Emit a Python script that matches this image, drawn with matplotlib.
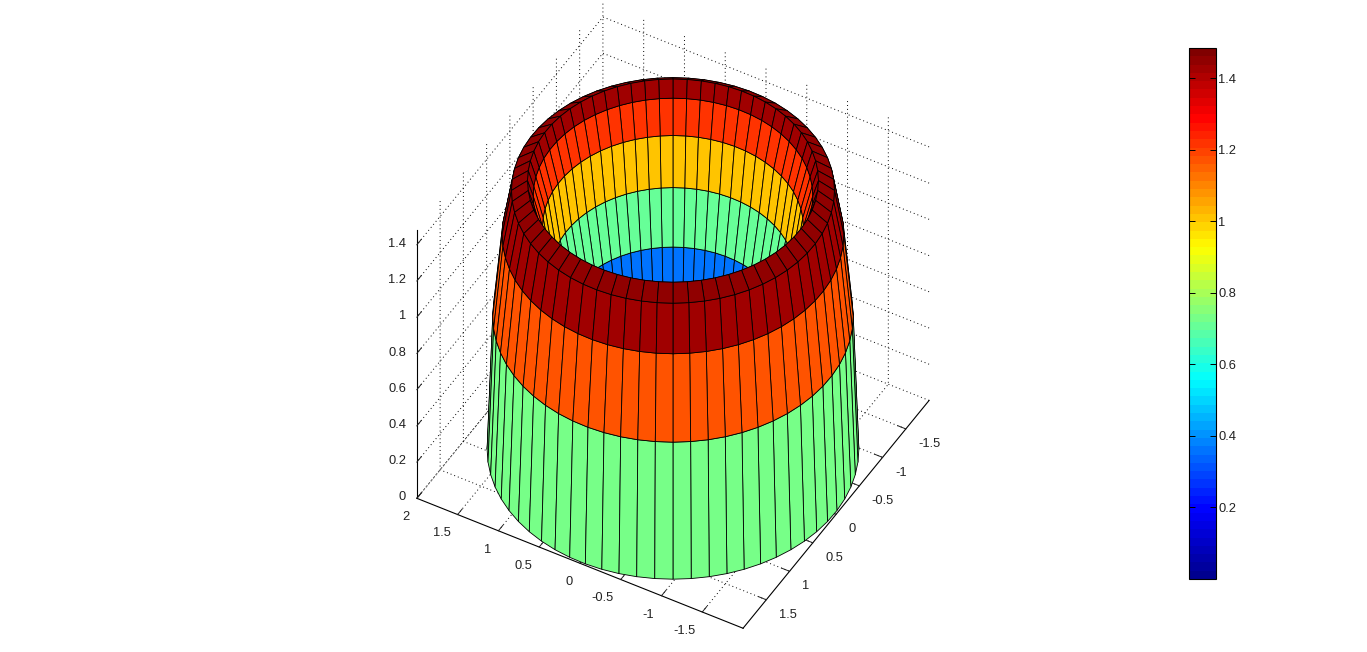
import numpy as np
import matplotlib
matplotlib.use("Agg")
import matplotlib.pyplot as plt
from matplotlib import cm, colors
from mpl_toolkits.mplot3d import proj3d

plt.rcParams['font.family'] = ['Liberation Sans', 'DejaVu Sans']
plt.rcParams['grid.color'] = 'black'
plt.rcParams['grid.linestyle'] = (0, (1, 3))
plt.rcParams['grid.linewidth'] = 0.7

# profile of the surface of revolution
ring_radius = [1.98, 1.92, 1.82, 1.72, 1.55, 1.49, 1.39, 1.30, 1.18, 1.05]
ring_height = [0.00, 0.735, 1.187, 1.43, 1.484, 1.40, 1.23, 0.975, 0.69, 0.345]
band_value = [0.74, 1.17, 1.42, 1.44, 1.42, 1.228, 1.00, 0.696, 0.349]
facet_count = 64

x_ticks = [-1.5, -1, -0.5, 0, 0.5, 1, 1.5, 2]
x_labels = ['-1.5', '-1', '-0.5', '0', '0.5', '1', '1.5', '2']
y_ticks = [-1.5, -1, -0.5, 0, 0.5, 1, 1.5]
y_labels = ['-1.5', '-1', '-0.5', '0', '0.5', '1', '1.5']
z_ticks = [0, 0.2, 0.4, 0.6, 0.8, 1, 1.2, 1.4]
z_labels = ['0', '0.2', '0.4', '0.6', '0.8', '1', '1.2', '1.4']
cbar_ticks = [0.2, 0.4, 0.6, 0.8, 1, 1.2, 1.4]
cbar_labels = ['0.2', '0.4', '0.6', '0.8', '1', '1.2', '1.4']
z_max = 1.484
ELEV, AZIM = 44.3, 119.7

W, H = 1367, 652
fig = plt.figure(figsize=(W / 100, H / 100), dpi=100, facecolor='white')
S0 = 620
ax = fig.add_axes([(673 - S0 / 2) / W, 1 - (315 + S0 / 2) / H, S0 / W, S0 / H],
                  projection='3d', proj_type='ortho')
ax.patch.set_alpha(0)
ax.view_init(elev=ELEV, azim=AZIM)

# MATLAB's 64-level jet
jet_segments = {
    'red': [(0, 0, 0), (0.375, 0, 0), (0.625, 1, 1), (0.875, 1, 1), (1, 0.5, 0.5)],
    'green': [(0, 0, 0), (0.125, 0, 0), (0.375, 1, 1), (0.625, 1, 1), (0.875, 0, 0), (1, 0, 0)],
    'blue': [(0, 0.5625, 0.5625), (0.125, 1, 1), (0.375, 1, 1), (0.625, 0, 0), (1, 0, 0)],
}
cmap = colors.LinearSegmentedColormap('matlab_jet', jet_segments, N=64)
norm = colors.Normalize(0, z_max)

theta = np.radians(AZIM) + np.linspace(0, 2 * np.pi, facet_count + 1)
R = np.array(ring_radius)[:, None]
Zr = np.array(ring_height)[:, None]
X = R * np.cos(theta)
Y = R * np.sin(theta)
Z = Zr * np.ones_like(theta)
face = cmap(norm(np.array(band_value)[:, None] * np.ones(facet_count)))
surf = ax.plot_surface(X, Y, Z, rstride=1, cstride=1, facecolors=face, shade=False,
                       linewidth=0.6, antialiased=True, zorder=3)
surf.set_edgecolor('black')
surf.set_linewidth(0.6)

ax.set_xlim(-2, 2)
ax.set_ylim(-2, 2)
ax.set_zlim(0, z_max)
ax.set_box_aspect((1, 1, 1))
ax.set_xticks(x_ticks, x_labels)
ax.set_yticks(y_ticks, y_labels)
ax.set_zticks(z_ticks, z_labels)
ax.zaxis.set_ticks_position('upper')
ax.zaxis.set_label_position('upper')

for axis in (ax.xaxis, ax.yaxis, ax.zaxis):
    axis.set_pane_color((1, 1, 1, 0))
    axis.pane.set_edgecolor((1, 1, 1, 0))
    axis.line.set_color('black')
    axis.line.set_linewidth(0.8)
    axis._axinfo['tick']['inward_factor'] = 0.0
    axis._axinfo['tick']['outward_factor'] = 0.3
    axis._axinfo['tick']['linewidth'] = {True: 0.7, False: 0.7}
    axis._axinfo['tick']['color'] = 'black'
ax.tick_params(axis='both', labelsize=9.3, colors='#222222', pad=1)
ax.tick_params(axis='z', pad=-3)
for lab in ax.get_xticklabels():
    lab.set_ha('right')
    lab.set_va('center')
for lab in ax.get_yticklabels():
    lab.set_ha('left')
    lab.set_va('center')
for lab in ax.get_zticklabels():
    lab.set_ha('right')
    lab.set_va('baseline')

# fit the box onto the reference's corner pixels
target = {(2, 2, 0): (417, 499), (-2, 2, 0): (743, 628), (-2, -2, 0): (929, 400)}
def corners():
    fig.canvas.draw()
    out = []
    for p in target:
        u, v, _ = proj3d.proj_transform(*p, ax.get_proj())
        px, py = ax.transData.transform((u, v))
        out.append((px, H - py))
    return np.array(out)
want = np.array(list(target.values()), float)
have = corners()
f = np.linalg.norm(want[2] - want[0]) / np.linalg.norm(have[2] - have[0])
S = S0 * f
ax.set_position([(673 - S / 2) / W, 1 - (315 + S / 2) / H, S / W, S / H])
have = corners()
d = (want - have).mean(axis=0)
cx, cy = 673 + d[0], 315 + d[1]
ax.set_position([(cx - S / 2) / W, 1 - (cy + S / 2) / H, S / W, S / H])

# colorbar
cax = fig.add_axes([1189 / W, 1 - 579 / H, 27 / W, 531 / H])
cb = fig.colorbar(cm.ScalarMappable(norm=norm, cmap=cmap), cax=cax)
cb.set_ticks(cbar_ticks, labels=cbar_labels)
cb.minorticks_off()
cb.outline.set_linewidth(0.8)
cax.tick_params(axis='y', direction='in', left=True, right=True, length=4, width=0.7,
                labelsize=9.3, pad=1.5, labelcolor='#222222')

fig.savefig('out.png', dpi=100)
